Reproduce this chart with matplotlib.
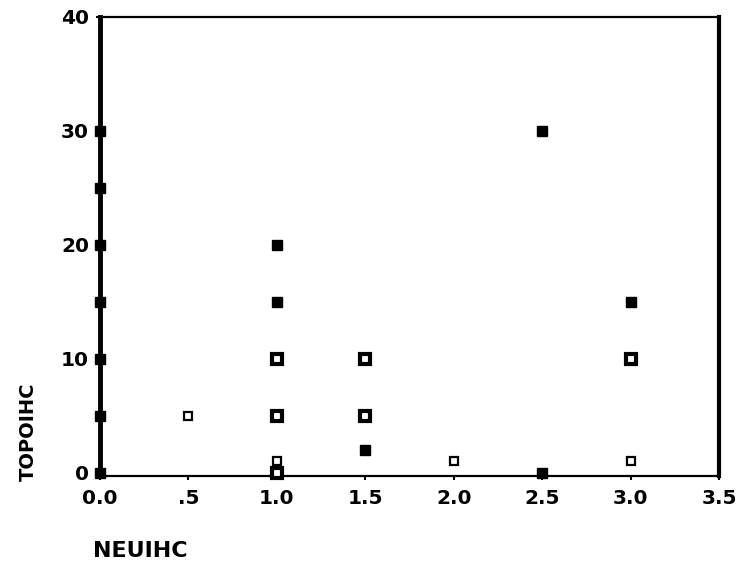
import matplotlib
matplotlib.use("Agg")
import matplotlib.pyplot as plt

# Data (NEUIHC vs TOPOIHC)
x_filled = [0.0, 0.0, 0.0, 0.0, 0.0, 0.0, 0.0, 1.0, 1.0, 1.5, 2.5, 2.5, 3.0]
y_filled = [0, 5, 10, 15, 20, 25, 30, 20, 15, 2, 30, 0, 15]
x_partial = [1.0, 1.0, 1.5, 1.5, 3.0, 1.0]
y_partial = [10, 5, 10, 5, 10, 0]
x_hollow = [0.5, 1.0, 2.0, 3.0]
y_hollow = [5, 1, 1, 1]

x_ticks = [0.0, 0.5, 1.0, 1.5, 2.0, 2.5, 3.0, 3.5]
x_ticklabels = ["0.0", ".5", "1.0", "1.5", "2.0", "2.5", "3.0", "3.5"]
y_ticks = [0, 10, 20, 30, 40]
y_ticklabels = ["0", "10", "20", "30", "40"]

plt.rcParams['font.family'] = ['DejaVu Sans']

fig = plt.figure(figsize=(7.42, 5.68), dpi=100)
ax = fig.add_axes([100/742, (568-476)/568, (719-100)/742, (476-17)/568])

ax.plot(x_filled, y_filled, linestyle='none', marker='s', markersize=6.5,
        markerfacecolor='black', markeredgecolor='black', clip_on=False, zorder=3)
ax.plot(x_partial, y_partial, linestyle='none', marker='s', markersize=6.5,
        markerfacecolor='white', markeredgecolor='black', markeredgewidth=3,
        clip_on=False, zorder=3)
ax.plot(x_hollow, y_hollow, linestyle='none', marker='s', markersize=6,
        markerfacecolor='white', markeredgecolor='black', markeredgewidth=1.6,
        clip_on=False, zorder=3)

ax.set_xlim(0, 3.5)
ax.set_ylim(-0.3, 40)
ax.set_xticks(x_ticks)
ax.set_xticklabels(x_ticklabels, fontsize=14.5, fontweight='bold')
ax.set_yticks(y_ticks)
ax.set_yticklabels(y_ticklabels, fontsize=14.5, fontweight='bold')
ax.tick_params(axis='x', length=3, width=1.5, direction='out', pad=6)
ax.tick_params(axis='y', length=3, width=1.5, direction='out', pad=5)

ax.spines['left'].set_linewidth(3.5)
ax.spines['right'].set_linewidth(3)
ax.spines['top'].set_linewidth(1.6)
ax.spines['bottom'].set_linewidth(1.6)

fig.text(93/742, 1 - 551/568, "NEUIHC", fontsize=16, fontweight='bold',
         ha='left', va='center')
fig.text(28/742, 1 - 432/568, "TOPOIHC", fontsize=14, fontweight='bold',
         ha='center', va='center', rotation=90)

fig.savefig("out.png", dpi=100)
